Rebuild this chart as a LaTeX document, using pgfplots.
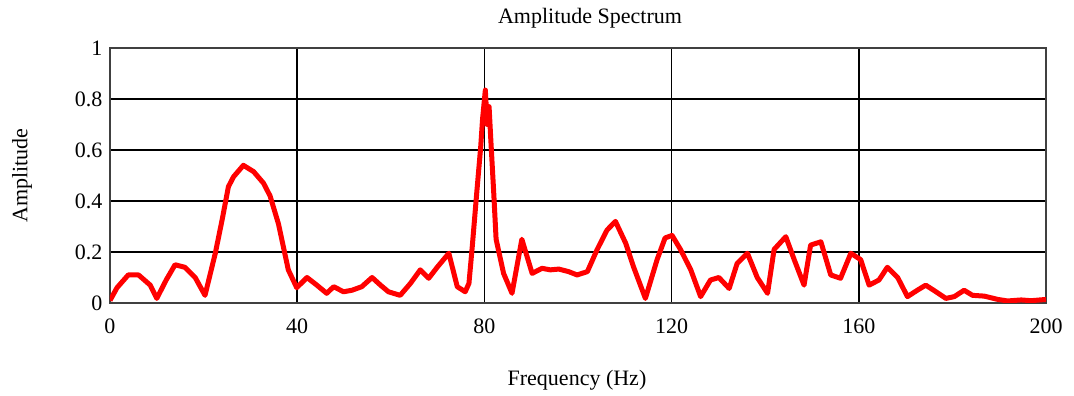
\documentclass[border=0pt]{standalone}
\usepackage{pgfplots}
\pgfplotsset{compat=1.18}
\usepackage{fontspec}
\setmainfont{Liberation Serif}
\begin{document}
\fontsize{22}{26}\selectfont
\begin{tikzpicture}
\path[use as bounding box] (-110pt,-93pt) rectangle (964pt,303pt);
\begin{axis}[
  at={(0,0)}, anchor=south west,
  scale only axis, width=936pt, height=255pt,
  xmin=0, xmax=200, ymin=0, ymax=1,
  xtick={0,40,80,120,160,200},
  ytick={0,0.2,0.4,0.6,0.8,1},
  yticklabels={0,0.2,0.4,0.6,0.8,1},
  xticklabels={0,40,80,120,160,200},
  major tick length=0pt,
  grid=major,
  major grid style={black, line width=1.6pt},
  axis line style={black!75, line width=2.2pt},
  tick label style={font=\fontsize{22}{26}\selectfont},
  xticklabel style={yshift=-8pt},
  yticklabel style={xshift=0pt},
]
\addplot[red, line width=5pt, line join=round] coordinates {
(0,0.01)(1.5,0.06)(3.9,0.11)(6.1,0.11)(8.6,0.07)(10.0,0.018)(12,0.09)(13.9,0.15)(16.0,0.14)(18.2,0.10)(20.3,0.03)(22.5,0.195)(24,0.33)(25.3,0.456)(26.4,0.495)(28.5,0.54)(30.7,0.515)(32.8,0.47)(34.2,0.42)(36.0,0.31)(38.1,0.13)(39.9,0.06)(42.1,0.10)(44.2,0.07)(46.3,0.038)(47.8,0.064)(49.9,0.044)(51.7,0.05)(53.8,0.064)(56.0,0.10)(57.8,0.07)(59.5,0.044)(62.0,0.03)(64.2,0.077)(66.3,0.13)(68.1,0.097)(69.9,0.14)(72.4,0.195)(74.2,0.064)(75.9,0.044)(76.7,0.077)(77.4,0.22)(78.4,0.44)(79.2,0.61)(79.6,0.72)(80.2,0.835)(80.6,0.70)(81.0,0.77)(81.4,0.63)(82.0,0.43)(82.5,0.25)(84.1,0.116)(85.9,0.038)(88.0,0.25)(90.2,0.116)(92.3,0.136)(94.1,0.13)(95.9,0.133)(98.0,0.123)(99.8,0.11)(102.0,0.123)(104.1,0.21)(106.2,0.286)(108.0,0.32)(110.2,0.234)(111.9,0.14)(114.4,0.018)(116.9,0.17)(118.6,0.255)(120.1,0.265)(121.9,0.21)(124.1,0.13)(126.2,0.025)(128.3,0.09)(130.1,0.10)(132.3,0.057)(134.0,0.155)(136.2,0.195)(138.3,0.10)(140.5,0.038)(141.9,0.21)(144.4,0.26)(146.2,0.17)(148.3,0.07)(149.7,0.227)(151.9,0.24)(154.0,0.11)(156.1,0.097)(158.3,0.195)(160.4,0.17)(162.2,0.07)(164.3,0.09)(166.1,0.14)(168.3,0.10)(170.4,0.025)(172.5,0.05)(174.3,0.07)(176.5,0.044)(178.6,0.018)(180.4,0.025)(182.5,0.05)(184.3,0.03)(186.8,0.027)(189.7,0.014)(191.8,0.008)(194.7,0.012)(196.8,0.009)(200,0.014)
};
\end{axis}
\node at (480pt,285pt) {Amplitude Spectrum};
\node at (467pt,-77pt) {Frequency (Hz)};
\node[rotate=90] at (-88pt,127.5pt) {Amplitude};
\end{tikzpicture}
\end{document}
